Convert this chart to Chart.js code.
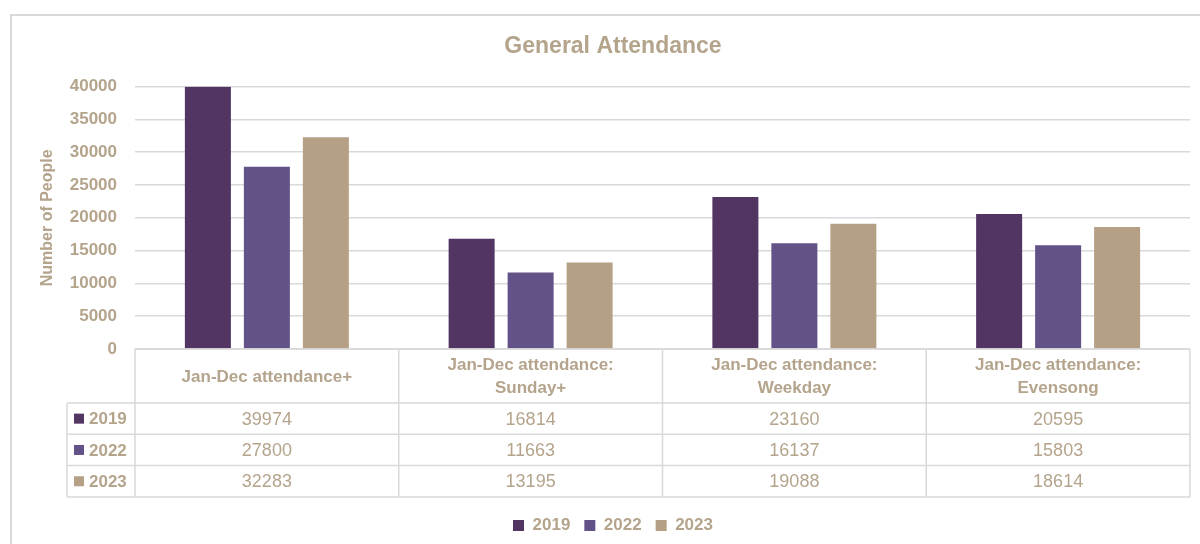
<!DOCTYPE html>
<html>
<head>
<meta charset="utf-8">
<script src="https://cdn.jsdelivr.net/npm/chart.js@4/dist/chart.umd.min.js"></script>
<style>
  html, body { margin: 0; padding: 0; background: #fff; overflow: hidden; }
  #wrap { position: relative; width: 1200px; height: 544px; }
  #frame { position: absolute; left: 10px; top: 14px; width: 1200px; height: 540px; border: 2px solid #d9d9d9; }
  #chart { position: absolute; left: 0; top: 0; }
</style>
</head>
<body>
<div id="wrap">
  <div id="frame"></div>
  <canvas id="chart" width="1200" height="544"></canvas>
</div>
<script>
const chartTitle = 'General Attendance';
const yAxisTitle = 'Number of People';
const categories = [
  ['Jan-Dec attendance+'],
  ['Jan-Dec attendance:', 'Sunday+'],
  ['Jan-Dec attendance:', 'Weekday'],
  ['Jan-Dec attendance:', 'Evensong']
];
const seriesNames = ['2019', '2022', '2023'];
const values2019 = [39974, 16814, 23160, 20595];
const values2022 = [27800, 11663, 16137, 15803];
const values2023 = [32283, 13195, 19088, 18614];
const yTicks = [0, 5000, 10000, 15000, 20000, 25000, 30000, 35000, 40000];

const colors = ['#523563', '#625288', '#b5a085'];
const textColor = '#b4a48c';
const lineColor = '#d9d9d9';
const fontFamily = '"Liberation Sans", Arial, sans-serif';

const seriesValues = [values2019, values2022, values2023];

// data table drawn under the plot, columns follow the x scale
const dataTable = {
  id: 'dataTable',
  afterDraw(chart) {
    const { ctx, chartArea, scales: { x } } = chart;
    const top = chartArea.bottom;
    const headerH = 54;
    const rowH = 31.3;
    const keyLeft = 67;
    const colW = x.width / categories.length;
    const left = x.left;
    const right = x.right;
    const bottom = top + headerH + rowH * seriesNames.length;

    ctx.save();
    ctx.strokeStyle = lineColor;
    ctx.lineWidth = 1.5;
    ctx.beginPath();
    // header top line and column lines
    ctx.moveTo(left, top); ctx.lineTo(right, top);
    for (let i = 0; i <= categories.length; i++) {
      const cx = left + i * colW;
      ctx.moveTo(cx, top); ctx.lineTo(cx, bottom);
    }
    // row lines, including the key column
    for (let r = 0; r <= seriesNames.length; r++) {
      const ry = top + headerH + r * rowH;
      ctx.moveTo(keyLeft, ry); ctx.lineTo(right, ry);
    }
    ctx.moveTo(keyLeft, top + headerH); ctx.lineTo(keyLeft, bottom);
    ctx.stroke();

    ctx.fillStyle = textColor;
    ctx.textAlign = 'center';
    ctx.textBaseline = 'middle';

    // category headers
    ctx.font = 'bold 17px ' + fontFamily;
    categories.forEach((lines, i) => {
      const cx = x.getPixelForValue(i);
      const cy = top + headerH / 2 + 1;
      const lh = 23;
      lines.forEach((t, k) => {
        ctx.fillText(t, cx, cy + (k - (lines.length - 1) / 2) * lh);
      });
    });

    // values
    ctx.font = '18px ' + fontFamily;
    seriesValues.forEach((vals, r) => {
      const cy = top + headerH + r * rowH + rowH / 2 + 1;
      vals.forEach((v, i) => {
        ctx.fillText(String(v), x.getPixelForValue(i), cy);
      });
    });

    // series keys
    ctx.textAlign = 'left';
    ctx.font = 'bold 17px ' + fontFamily;
    seriesNames.forEach((name, r) => {
      const cy = top + headerH + r * rowH + rowH / 2;
      ctx.fillStyle = colors[r];
      ctx.fillRect(74, cy - 5, 10, 10);
      ctx.fillStyle = textColor;
      ctx.fillText(name, 89, cy + 1);
    });
    ctx.restore();
  }
};

new Chart(document.getElementById('chart'), {
  type: 'bar',
  data: {
    labels: categories,
    datasets: seriesNames.map((name, i) => ({
      label: name,
      data: seriesValues[i],
      backgroundColor: colors[i],
      borderWidth: 0,
      categoryPercentage: 0.671,
      barPercentage: 0.78
    }))
  },
  options: {
    responsive: false,
    animation: false,
    layout: { padding: { left: 36, right: 10, top: 0, bottom: 0 } },
    plugins: {
      title: {
        display: true,
        text: chartTitle,
        color: textColor,
        font: { family: fontFamily, size: 23, weight: 'bold' },
        padding: { top: 33, bottom: 26 }
      },
      legend: {
        position: 'bottom',
        labels: {
          color: textColor,
          font: { family: fontFamily, size: 17, weight: 'bold' },
          boxWidth: 11,
          boxHeight: 11,
          padding: 14
        }
      },
      tooltip: { enabled: false }
    },
    scales: {
      x: {
        ticks: { display: false },
        grid: { display: false },
        border: { display: false },
        afterFit: (s) => { s.height = 154; }
      },
      y: {
        min: yTicks[0],
        max: yTicks[yTicks.length - 1],
        afterBuildTicks: (s) => { s.ticks = yTicks.map(v => ({ value: v })); },
        ticks: {
          color: textColor,
          font: { family: fontFamily, size: 17, weight: 'bold' },
          padding: 18,
          callback: (v) => String(v)
        },
        grid: { color: lineColor, lineWidth: 1.5, drawTicks: false },
        border: { display: false },
        title: {
          display: true,
          text: yAxisTitle,
          color: textColor,
          font: { family: fontFamily, size: 16, weight: 'bold' },
          padding: { top: 2, bottom: 0 }
        },
        afterFit: (s) => { s.width = 99; }
      }
    }
  },
  plugins: [dataTable]
});
</script>
</body>
</html>
